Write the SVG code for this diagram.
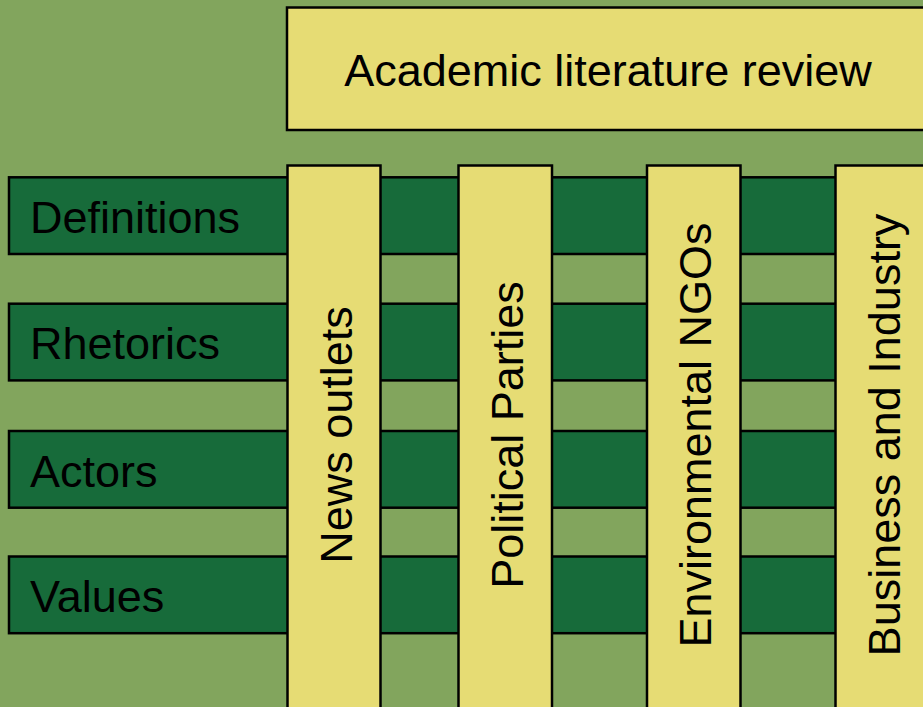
<svg xmlns="http://www.w3.org/2000/svg" width="923" height="707" viewBox="0 0 923 707">
<style>
.row{fill:#176B3A;stroke:#000;stroke-width:2.5}
.col{fill:#E6DC74;stroke:#000;stroke-width:2.5}
.t{font-family:"Liberation Sans",Arial,sans-serif;font-size:45px;fill:#000}
.m{text-anchor:middle}
</style>
<rect x="0" y="0" width="923" height="707" fill="#82A55D"/>
<g id="academic">
<rect class="col" x="287" y="7.5" width="645" height="122.5"/>
<text class="t m" x="608" y="86">Academic literature review</text>
</g>
<g id="definitions">
<rect class="row" x="9" y="177.3" width="930" height="76.7"/>
<text class="t" x="30" y="233">Definitions</text>
</g>
<g id="rhetorics">
<rect class="row" x="9" y="303.7" width="930" height="76.7"/>
<text class="t" x="30" y="359">Rhetorics</text>
</g>
<g id="actors">
<rect class="row" x="9" y="431" width="930" height="76.7"/>
<text class="t" x="30" y="486.5">Actors</text>
</g>
<g id="values">
<rect class="row" x="9" y="556.5" width="930" height="76.7"/>
<text class="t" x="30" y="612">Values</text>
</g>
<g id="news-outlets">
<rect class="col" x="287.5" y="165.5" width="93" height="560"/>
<text class="t m" transform="translate(352,435) rotate(-90)">News outlets</text>
</g>
<g id="political-parties">
<rect class="col" x="458.5" y="165.5" width="93.5" height="560"/>
<text class="t m" transform="translate(523,435) rotate(-90)">Political Parties</text>
</g>
<g id="environmental-ngos">
<rect class="col" x="647" y="165.5" width="93.5" height="560"/>
<text class="t m" transform="translate(711,435) rotate(-90)">Environmental NGOs</text>
</g>
<g id="business-industry">
<rect class="col" x="835.5" y="165.5" width="120" height="560"/>
<text class="t m" transform="translate(900,435) rotate(-90)">Business and Industry</text>
</g>
<g id="connectors"></g>
</svg>
